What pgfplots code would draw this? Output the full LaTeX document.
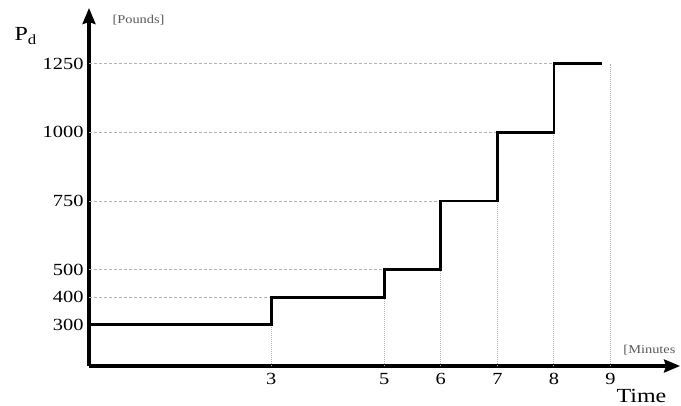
\documentclass[border=0pt]{standalone}
\usepackage{fontspec}
\setmainfont{Liberation Serif}
\newfontfamily\tickfont[FakeStretch=1.2]{Liberation Serif}
\usepackage{pgfplots}
\pgfplotsset{compat=1.18}
\usetikzlibrary{arrows.meta}
\begin{document}
\begin{tikzpicture}
\path[use as bounding box] (-89pt,-39pt) rectangle (592pt,366pt);
\begin{axis}[
  at={(0,0)}, anchor=south west,
  x=56.56pt, y=0.2745pt,
  xmin=-0.22, xmax=10.23,
  ymin=149, ymax=1453,
  axis x line*=bottom, axis y line*=left,
  axis line style={line width=3.2pt, -{Stealth[length=16pt,width=13pt,inset=2pt]}},
  xtick={3,5,6,7,8,9},
  ytick={300,400,500,750,1000,1250},
  major tick length=0pt,
  /pgf/number format/assume math mode=true,
  /pgf/number format/1000 sep={},
  tick label style={font=\tickfont\fontsize{17}{19}\selectfont},
  xticklabel style={yshift=-4pt},
  yticklabel style={xshift=-2pt},
  clip=false,
]
% horizontal guide lines
\addplot[gray!60, densely dashed, line width=0.8pt] coordinates {(-0.22,400) (3,400)};
\addplot[gray!60, densely dashed, line width=0.8pt] coordinates {(-0.22,500) (5,500)};
\addplot[gray!60, densely dashed, line width=0.8pt] coordinates {(-0.22,750) (6,750)};
\addplot[gray!60, densely dashed, line width=0.8pt] coordinates {(-0.22,1000) (7,1000)};
\addplot[gray!60, densely dashed, line width=0.8pt] coordinates {(-0.22,1250) (8,1250)};
% vertical guide lines
\addplot[gray!60, densely dotted, line width=1pt] coordinates {(3,149) (3,300)};
\addplot[gray!60, densely dotted, line width=1pt] coordinates {(5,149) (5,400)};
\addplot[gray!60, densely dotted, line width=1pt] coordinates {(6,149) (6,500)};
\addplot[gray!60, densely dotted, line width=1pt] coordinates {(7,149) (7,750)};
\addplot[gray!60, densely dotted, line width=1pt] coordinates {(8,149) (8,1000)};
\addplot[gray!60, densely dotted, line width=1pt] coordinates {(9,149) (9,1250)};
% step function
\addplot[const plot, black, line width=2.8pt] coordinates {
  (-0.22,300) (3,400) (5,500) (6,750) (7,1000) (8,1250) (8.85,1250)};
\end{axis}
\node[anchor=base west, font=\tickfont\fontsize{20}{22}\selectfont] at (-78pt,325pt) {P\textsubscript{d}};
\node[anchor=base west, font=\tickfont\fontsize{12}{14}\selectfont, gray!70!black] at (20pt,342pt) {[Pounds]};
\node[anchor=base east, font=\tickfont\fontsize{12}{14}\selectfont, gray!70!black] at (590pt,13pt) {[Minutes};
\node[anchor=base west, font=\tickfont\fontsize{20}{22}\selectfont] at (524pt,-36pt) {Time};
\end{tikzpicture}
\end{document}
